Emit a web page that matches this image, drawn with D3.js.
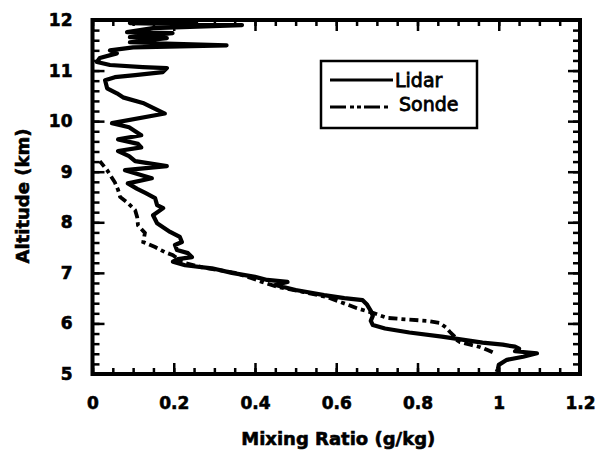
<!DOCTYPE html>
<html>
<head>
<meta charset="utf-8">
<script src="https://cdn.jsdelivr.net/npm/d3@7"></script>
<style>
  body { margin: 0; background: #fff; }
  svg { display: block; }
</style>
</head>
<body>
<svg id="chart" width="598" height="450"></svg>
<script>
// lidar profile (altitude km, mixing ratio g/kg)
var lidarAlt = [5.04, 5.10, 5.18, 5.28, 5.34, 5.41, 5.45, 5.50, 5.54, 5.58, 5.62, 5.68, 5.74, 5.82, 5.90, 5.97,
  6.05, 6.15, 6.25, 6.38, 6.46, 6.50, 6.56, 6.66, 6.76, 6.82, 6.86, 6.92, 7.00, 7.09, 7.15, 7.22, 7.27, 7.31,
  7.39, 7.45, 7.55, 7.61, 7.71, 7.81, 7.98, 8.14, 8.28, 8.34, 8.48, 8.58, 8.66, 8.77, 8.87, 9.03, 9.11, 9.21,
  9.31, 9.41, 9.48, 9.55, 9.64, 9.72, 9.80, 9.88, 9.96, 10.15, 10.36, 10.47, 10.55, 10.65, 10.81, 10.87, 10.91,
  10.97, 11.05, 11.07, 11.11, 11.17, 11.25, 11.34, 11.40, 11.46, 11.50, 11.54, 11.56, 11.64, 11.66, 11.74,
  11.76, 11.84, 11.90, 11.94, 11.98];
var lidarMix = [0.995, 0.998, 1.0, 1.02, 1.06, 1.094, 1.04, 1.05, 1.04, 1.01, 0.96, 0.91, 0.86, 0.78, 0.72, 0.69,
  0.685, 0.69, 0.685, 0.675, 0.665, 0.62, 0.57, 0.5, 0.45, 0.48, 0.43, 0.4, 0.343, 0.294, 0.228, 0.198, 0.21, 0.245,
  0.235, 0.208, 0.203, 0.22, 0.215, 0.191, 0.159, 0.149, 0.174, 0.159, 0.154, 0.13, 0.11, 0.087, 0.146, 0.08, 0.183, 0.105,
  0.09, 0.063, 0.12, 0.112, 0.063, 0.12, 0.105, 0.09, 0.048, 0.178, 0.124, 0.075, 0.06, 0.036, 0.031, 0.055, 0.105,
  0.173, 0.183, 0.124, 0.043, 0.011, 0.018, 0.06, 0.043, 0.1, 0.33, 0.16, 0.092, 0.183, 0.092, 0.197,
  0.085, 0.149, 0.368, 0.092, 0.26];

// radiosonde profile
var sondeAlt = [5.43, 5.47, 5.53, 5.58, 5.63, 5.67, 5.75, 5.83, 5.92, 6.01, 6.05, 6.08, 6.11, 6.21, 6.30, 6.41,
  6.52, 6.62, 6.72, 6.82, 6.90, 7.00, 7.11, 7.21, 7.28, 7.35, 7.41, 7.51, 7.61, 7.70, 7.79, 7.94, 8.10, 8.24,
  8.38, 8.50, 8.64, 8.79, 9.03, 9.21];
var sondeMix = [0.985, 0.974, 0.955, 0.93, 0.905, 0.897, 0.89, 0.88, 0.87, 0.855, 0.825, 0.77, 0.725, 0.69, 0.651, 0.615,
  0.577, 0.52, 0.457, 0.417, 0.39, 0.351, 0.27, 0.22, 0.21, 0.198, 0.178, 0.154, 0.125, 0.127, 0.129, 0.112, 0.11, 0.105,
  0.087, 0.068, 0.063, 0.055, 0.036, 0.018];

var xTicks = [0, 0.2, 0.4, 0.6, 0.8, 1, 1.2];
var yTicks = [5, 6, 7, 8, 9, 10, 11, 12];
var legendNames = ["Lidar", "Sonde"];

(function () {
  var svg = d3.select("#chart");
  var pLeft = 92.5, pRight = 580, pTop = 20, pBottom = 374;

  var x = d3.scaleLinear().domain([0, 1.2]).range([pLeft, pRight]);
  var y = d3.scaleLinear().domain([5, 12]).range([pBottom, pTop]);

  var xMinor = d3.range(0, 1.2001, 0.05);
  var yMinor = d3.range(5, 12.001, 0.2);

  function tickAxis(axis, tr) {
    var g = svg.append("g").attr("transform", tr).call(axis);
    g.select(".domain").remove();
    g.selectAll(".tick line").attr("stroke", "#000").attr("stroke-width", 2.5);
    return g;
  }

  // inward ticks on all four sides
  tickAxis(d3.axisBottom(x).tickValues(xMinor).tickSize(-6).tickFormat(""), "translate(0," + pBottom + ")");
  tickAxis(d3.axisBottom(x).tickValues(xTicks).tickSize(-11).tickFormat(""), "translate(0," + pBottom + ")");
  tickAxis(d3.axisTop(x).tickValues(xMinor).tickSize(-6).tickFormat(""), "translate(0," + pTop + ")");
  tickAxis(d3.axisTop(x).tickValues(xTicks).tickSize(-11).tickFormat(""), "translate(0," + pTop + ")");
  tickAxis(d3.axisLeft(y).tickValues(yMinor).tickSize(-7).tickFormat(""), "translate(" + pLeft + ",0)");
  tickAxis(d3.axisLeft(y).tickValues(yTicks).tickSize(-12).tickFormat(""), "translate(" + pLeft + ",0)");
  tickAxis(d3.axisRight(y).tickValues(yMinor).tickSize(-7).tickFormat(""), "translate(" + pRight + ",0)");
  tickAxis(d3.axisRight(y).tickValues(yTicks).tickSize(-12).tickFormat(""), "translate(" + pRight + ",0)");

  // tick labels
  tickAxis(d3.axisBottom(x).tickValues(xTicks).tickSize(0).tickPadding(23).tickFormat(d3.format("")), "translate(0," + pBottom + ")");
  tickAxis(d3.axisLeft(y).tickValues(yTicks).tickSize(0).tickPadding(20).tickFormat(d3.format("")), "translate(" + pLeft + ",0)");
  svg.selectAll(".tick text")
    .attr("font-family", "DejaVu Sans")
    .attr("font-weight", "bold")
    .attr("font-size", 17)
    .attr("fill", "#000")
    .attr("stroke", "#000").attr("stroke-width", 0.6);

  // frame
  svg.append("rect")
    .attr("x", pLeft).attr("y", pTop)
    .attr("width", pRight - pLeft).attr("height", pBottom - pTop)
    .attr("fill", "none").attr("stroke", "#000").attr("stroke-width", 4);

  // profiles
  svg.append("clipPath").attr("id", "plotclip").append("rect")
    .attr("x", pLeft).attr("y", pTop - 2).attr("width", pRight - pLeft).attr("height", pBottom - pTop + 4);

  var line = d3.line().x(d => x(d[1])).y(d => y(d[0]));
  var lidar = lidarAlt.map((a, i) => [a, lidarMix[i]]);
  var sonde = sondeAlt.map((a, i) => [a, sondeMix[i]]);

  svg.append("path").datum(sonde)
    .attr("d", line)
    .attr("clip-path", "url(#plotclip)")
    .attr("fill", "none").attr("stroke", "#000")
    .attr("stroke-width", 3.8)
    .attr("stroke-dasharray", "9,4,4,4");

  svg.append("path").datum(lidar)
    .attr("d", line)
    .attr("clip-path", "url(#plotclip)")
    .attr("fill", "none").attr("stroke", "#000")
    .attr("stroke-width", 4.2)
    .attr("stroke-linejoin", "round");

  // axis titles
  svg.append("text")
    .attr("x", (pLeft + pRight) / 2 + 2).attr("y", 445)
    .attr("text-anchor", "middle")
    .attr("font-family", "DejaVu Sans").attr("font-weight", "bold").attr("font-size", 18)
    .attr("stroke", "#000").attr("stroke-width", 0.6)
    .text("Mixing Ratio (g/kg)");

  svg.append("text")
    .attr("transform", "translate(29,196) rotate(-90)")
    .attr("text-anchor", "middle")
    .attr("font-family", "DejaVu Sans").attr("font-weight", "bold").attr("font-size", 18)
    .attr("stroke", "#000").attr("stroke-width", 0.6)
    .text("Altitude (km)");

  // legend
  var lg = svg.append("g");
  lg.append("rect")
    .attr("x", 321).attr("y", 61).attr("width", 156).attr("height", 67)
    .attr("fill", "#fff").attr("stroke", "#000").attr("stroke-width", 2.5);

  lg.append("line").attr("x1", 330).attr("x2", 393).attr("y1", 80).attr("y2", 80)
    .attr("stroke", "#000").attr("stroke-width", 3);
  lg.append("line").attr("x1", 330).attr("x2", 388).attr("y1", 107).attr("y2", 107)
    .attr("stroke", "#000").attr("stroke-width", 3).attr("stroke-dasharray", "16,4,4,3,4,3");

  lg.selectAll("text.leg").data(legendNames).enter().append("text")
    .attr("class", "leg")
    .attr("x", (d, i) => i == 0 ? 395 : 399)
    .attr("y", (d, i) => i == 0 ? 87 : 111)
    .attr("font-family", "DejaVu Sans").attr("font-size", 19)
    .attr("stroke", "#000").attr("stroke-width", 0.8)
    .text(d => d);
})();
</script>
</body>
</html>
